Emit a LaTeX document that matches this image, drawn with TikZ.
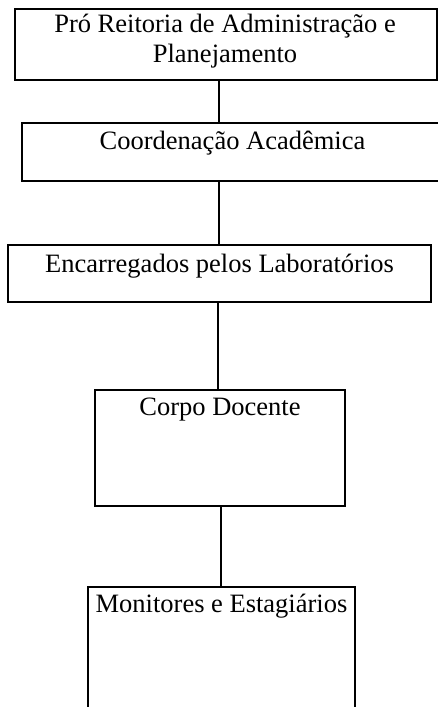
\documentclass[tikz,border=0pt]{standalone}
\usepackage{fontspec}
\setmainfont{Liberation Serif}
\usetikzlibrary{calc}
\begin{document}
\begin{tikzpicture}[x=1pt,y=-1pt,
  box/.style={draw=black, line width=1.6pt, rectangle, inner sep=0pt},
  lbl/.style={anchor=base, inner sep=0pt, align=center,
    font=\fontsize{26.5}{29.5}\selectfont},
  link/.style={draw=black, line width=1.6pt}]
\useasboundingbox (0,0) rectangle (438,707);
\fill[white] (0,0) rectangle (438,707);
% boxes
\node[box, minimum width=422pt, minimum height=71pt] (b1) at (226,44.5) {};
\node[box, minimum width=419pt, minimum height=58pt] (b2) at (231.5,152) {};
\node[box, minimum width=423pt, minimum height=57pt] (b3) at (219.5,273.5) {};
\node[box, minimum width=250pt, minimum height=116pt] (b4) at (220,448) {};
\node[box, minimum width=267pt, minimum height=146pt] (b5) at (221.5,660) {};
% texts
\node[lbl] (t1) at ($(b1.north)+(-1,54)$) {Pró Reitoria de Administração e\\Planejamento};
\node[lbl] (t2) at ($(b2.north)+(1,27)$) {Coordenação Acadêmica};
\node[lbl] (t3) at ($(b3.north)+(0,28)$) {Encarregados pelos Laboratórios};
\node[lbl] (t4) at ($(b4.north)+(0,26)$) {Corpo Docente};
\node[lbl] (t5) at ($(b5.north)+(0,26)$) {Monitores e Estagiários};
% connectors
\draw[link] (b1.south -| 219,0) -- (b2.north -| 219,0);
\draw[link] (b2.south -| 219,0) -- (b3.north -| 219,0);
\draw[link] (b3.south -| 218,0) -- (b4.north -| 218,0);
\draw[link] (b4.south -| 221,0) -- (b5.north -| 221,0);
\end{tikzpicture}
\end{document}
